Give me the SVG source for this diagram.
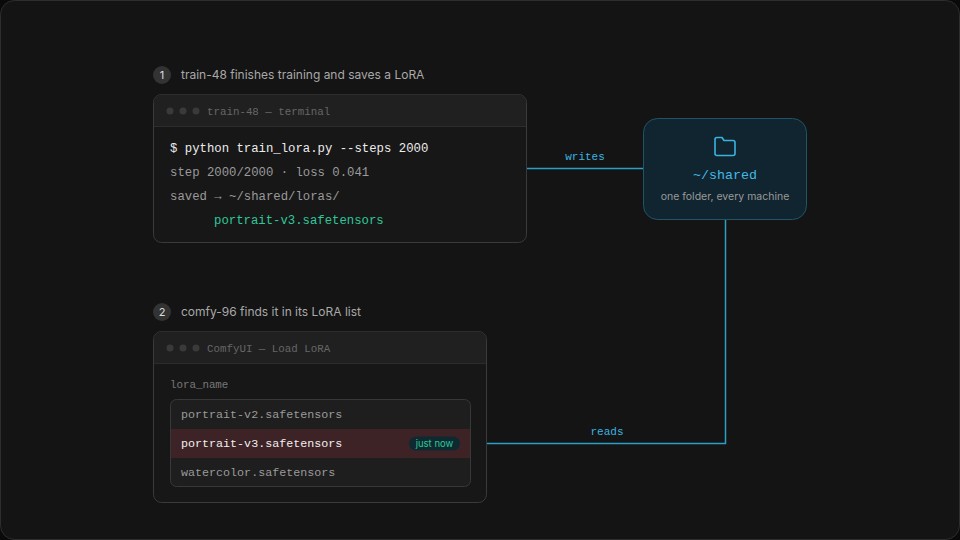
<svg xmlns="http://www.w3.org/2000/svg" width="960" height="540" viewBox="0 0 960 540">
<style>
.mono{font-family:"Liberation Mono","DejaVu Sans Mono",monospace}
.sans{font-family:Inter,"Liberation Sans",sans-serif}
.win{fill:#171717;stroke:#3a3a3a;stroke-width:1}
.hdr{fill:#202020}
.dot{fill:#3a3a3a}
.conn{stroke:#2a9fc6;stroke-width:1.5;fill:none}
.clab{fill:#3bb3e0;font-size:11px}
</style>
<rect x="0" y="0" width="960" height="540" fill="#0a0a0a"/>
<rect x="0.5" y="0.5" width="959" height="539" rx="14" fill="#141414" stroke="#2e2e2e"/>
<g id="connectors">
<path class="conn" d="M527 168.5H643"/>
<text class="mono clab" x="585" y="160" text-anchor="middle">writes</text>
<path class="conn" d="M725.5 219V443.5H487"/>
<text class="mono clab" x="607" y="435" text-anchor="middle">reads</text>
</g>
<g id="step1">
<circle cx="162" cy="75" r="9" fill="#333"/>
<text class="sans" x="162" y="79" font-size="11" fill="#ddd" text-anchor="middle">1</text>
<text class="sans" x="181" y="79" font-size="12" fill="#a8a8a8">train-48 finishes training and saves a LoRA</text>
</g>
<g id="terminal">
<rect class="win" x="153.5" y="94.5" width="373" height="148" rx="8"/>
<path class="hdr" d="M154 126V102.5a8 8 0 0 1 8-8H518a8 8 0 0 1 8 8V126Z"/>
<path d="M154 126.5H526" stroke="#2c2c2c"/>
<circle class="dot" cx="170" cy="111" r="3.5"/><circle class="dot" cx="183" cy="111" r="3.5"/><circle class="dot" cx="196" cy="111" r="3.5"/>
<text class="mono" x="207" y="115" font-size="10.8" fill="#666">train-48 — terminal</text>
<text class="mono" x="170" y="152" font-size="12.3" fill="#ececec">$ python train_lora.py --steps 2000</text>
<text class="mono" x="170" y="176" font-size="12.3" fill="#9a9a9a">step 2000/2000 · loss 0.041</text>
<text class="mono" x="170" y="200" font-size="12.3" fill="#9a9a9a">saved → ~/shared/loras/</text>
<text class="mono" x="214" y="224" font-size="12.3" fill="#2fc79a">portrait-v3.safetensors</text>
</g>
<g id="shared">
<rect x="643.5" y="118.5" width="163" height="101" rx="14" fill="#10252f" stroke="#1f5566"/>
<path d="M715 139.5a2 2 0 0 1 2-2h5l2 3h9a2 2 0 0 1 2 2v11a2 2 0 0 1-2 2H717a2 2 0 0 1-2-2Z" fill="none" stroke="#3bb3e0" stroke-width="1.6" stroke-linejoin="round"/>
<text class="mono" x="725" y="179" font-size="13.3" fill="#45b8e6" text-anchor="middle">~/shared</text>
<text class="sans" x="725" y="200" font-size="10.5" fill="#9a9a9a" text-anchor="middle">one folder, every machine</text>
</g>
<g id="step2">
<circle cx="162" cy="312" r="9" fill="#333"/>
<text class="sans" x="162" y="316" font-size="11" fill="#ddd" text-anchor="middle">2</text>
<text class="sans" x="181" y="316" font-size="12" fill="#a8a8a8">comfy-96 finds it in its LoRA list</text>
</g>
<g id="comfyui">
<rect class="win" x="153.5" y="331.5" width="333" height="171" rx="8"/>
<path class="hdr" d="M154 363V339.5a8 8 0 0 1 8-8H478a8 8 0 0 1 8 8V363Z"/>
<path d="M154 363.5H486" stroke="#2c2c2c"/>
<circle class="dot" cx="170" cy="348" r="3.5"/><circle class="dot" cx="183" cy="348" r="3.5"/><circle class="dot" cx="196" cy="348" r="3.5"/>
<text class="mono" x="207" y="352" font-size="10.8" fill="#666">ComfyUI — Load LoRA</text>
<text class="mono" x="170" y="388" font-size="10.8" fill="#777">lora_name</text>
<rect x="170.5" y="399.5" width="300" height="87" rx="6" fill="#1e1e1e" stroke="#383838"/>
<rect x="171" y="429" width="299" height="29" fill="#3d2226"/>
<text class="mono" x="181" y="418" font-size="11.7" fill="#9a9a9a">portrait-v2.safetensors</text>
<text class="mono" x="181" y="447" font-size="11.7" fill="#f0f0f0">portrait-v3.safetensors</text>
<text class="mono" x="181" y="476" font-size="11.7" fill="#9a9a9a">watercolor.safetensors</text>
<rect x="409" y="436.5" width="51" height="14" rx="7" fill="#0e2a30"/>
<text class="sans" x="434.5" y="447" font-size="9.5" fill="#2fc79a" text-anchor="middle">just now</text>
</g>
</svg>
